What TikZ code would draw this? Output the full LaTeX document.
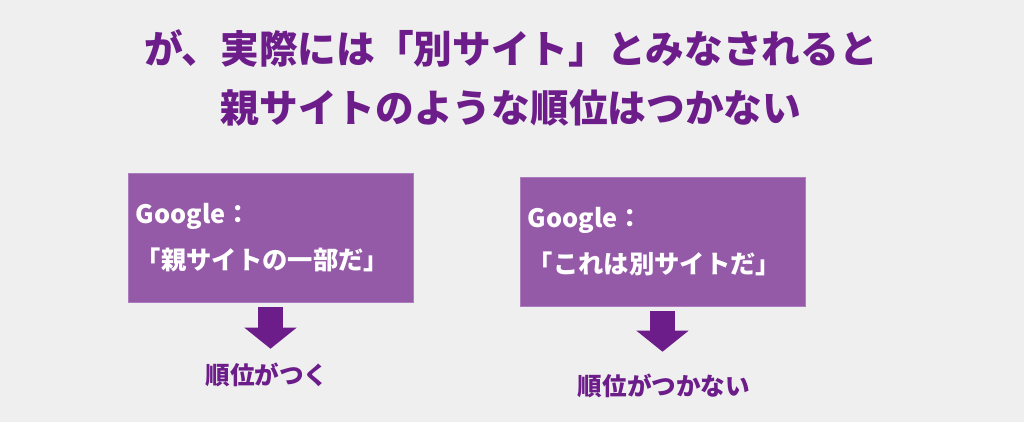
\documentclass[tikz,border=0pt]{standalone}
\usepackage{fontspec}
\setmainfont{Noto Sans CJK JP}
\usetikzlibrary{arrows.meta,positioning}
\definecolor{headpurple}{RGB}{108,29,138}
\definecolor{boxpurple}{RGB}{148,89,167}
\definecolor{boxrim}{RGB}{172,124,190}
\definecolor{paper}{RGB}{239,239,240}
\tikzset{headline/.style={text=headpurple,font=\bfseries\fontsize{27.5}{33}\selectfont,inner sep=0}}
\tikzset{verdict/.style={rectangle,draw=boxrim,fill=boxpurple,text=white,font=\bfseries\fontsize{18}{32.6}\selectfont,minimum width=7.125cm,minimum height=3.225cm,text width=6.725cm,inner xsep=0.2cm,align=left}}
\tikzset{result/.style={text=headpurple,font=\bfseries\fontsize{17.5}{21}\selectfont,inner sep=0}}
\tikzset{downArrow/.style={draw=headpurple,line width=0.625cm,-{Triangle[width=1.275cm,length=0.525cm]}}}

\begin{document}
\begin{tikzpicture}[x=0.025cm,y=-0.025cm]
\fill[paper] (0,0) rectangle (1024,422);
	\node (head1) [headline] at (511,48) {が、実際には「別サイト」とみなされると};
	\node (head2) [headline] at (511,108) {親サイトのような順位はつかない};
	\node (parent) [verdict] at (270.5,237.5) {Google：\\「親サイトの一部だ」};
	\node (other) [verdict] at (662.5,241.5) {Google：\\「これは別サイトだ」};
	\node (rank1) [result] at (267,375) {順位がつく};
	\node (rank2) [result] at (664,386) {順位がつかない};
	\draw [downArrow,shorten <=0.125cm,shorten >=0.35cm] (parent.south) -- (parent.south |- rank1.north);
	\draw [downArrow,shorten <=0.125cm,shorten >=0.55cm] (other.south) -- (other.south |- rank2.north);
\end{tikzpicture}
\end{document}
